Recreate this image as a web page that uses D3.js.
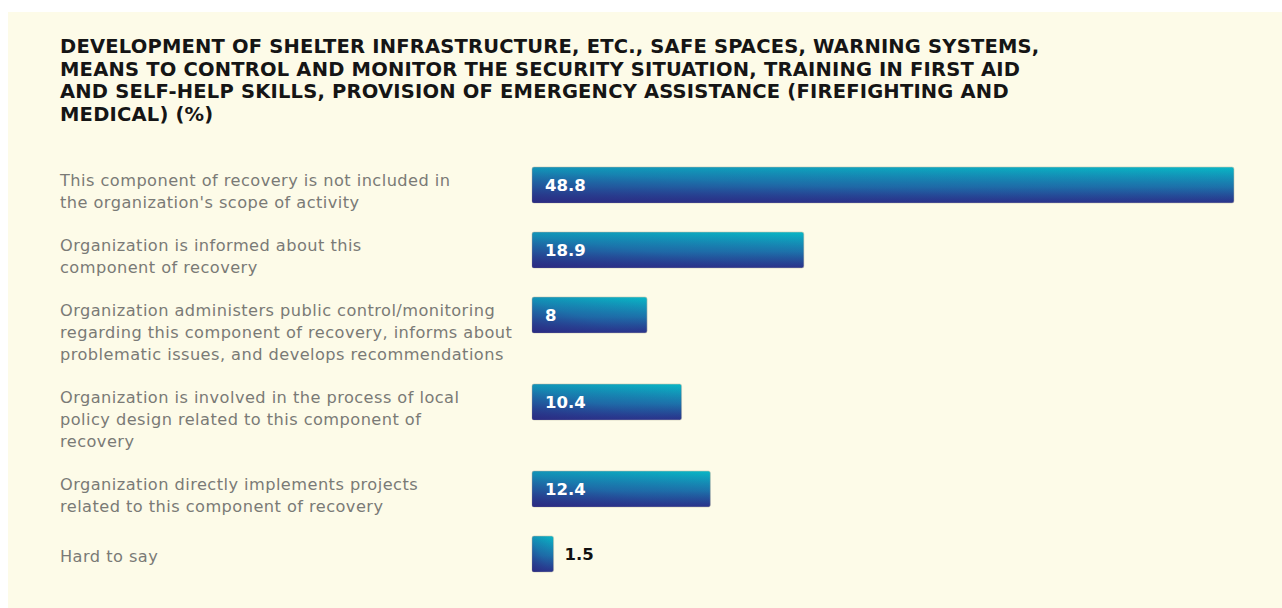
<!DOCTYPE html>
<html>
<head>
<meta charset="utf-8">
<script src="https://cdn.jsdelivr.net/npm/d3@7"></script>
<style>
  html, body { margin: 0; padding: 0; background: #ffffff; }
  svg { display: block; }
</style>
</head>
<body>
<svg id="chart" width="1282" height="608"></svg>
<script>
// Chart title, one entry per printed line
const titleLines = [
  "DEVELOPMENT OF SHELTER INFRASTRUCTURE, ETC., SAFE SPACES, WARNING SYSTEMS,",
  "MEANS TO CONTROL AND MONITOR THE SECURITY SITUATION, TRAINING IN FIRST AID",
  "AND SELF-HELP SKILLS, PROVISION OF EMERGENCY ASSISTANCE (FIREFIGHTING AND",
  "MEDICAL) (%)"
];

// Response categories, already broken into their printed lines
const categories = [
  ["This component of recovery is not included in", "the organization's scope of activity"],
  ["Organization is informed about this", "component of recovery"],
  ["Organization administers public control/monitoring", "regarding this component of recovery, informs about", "problematic issues, and develops recommendations"],
  ["Organization is involved in the process of local", "policy design related to this component of", "recovery"],
  ["Organization directly implements projects", "related to this component of recovery"],
  ["Hard to say"]
];

// Share of organizations, %
const values = [48.8, 18.9, 8, 10.4, 12.4, 1.5];

const svg = d3.select("#chart");
const W = 1282, H = 608;

// cream panel
svg.append("rect")
  .attr("x", 8).attr("y", 12)
  .attr("width", W - 8).attr("height", H - 12)
  .attr("fill", "#fdfbe8");

// gradients for bars
const defs = svg.append("defs");
const gV = defs.append("linearGradient").attr("id", "barV")
  .attr("x1", 0).attr("y1", 0).attr("x2", 0).attr("y2", 1);
gV.append("stop").attr("offset", "0%").attr("stop-color", "#08b8c6");
gV.append("stop").attr("offset", "55%").attr("stop-color", "#1a7caf");
gV.append("stop").attr("offset", "100%").attr("stop-color", "#2a3088");

const gH = defs.append("linearGradient").attr("id", "barH")
  .attr("x1", 0).attr("y1", 1).attr("x2", 1).attr("y2", 0);
gH.append("stop").attr("offset", "0%").attr("stop-color", "#2b2a80").attr("stop-opacity", 0.8);
gH.append("stop").attr("offset", "45%").attr("stop-color", "#2b3590").attr("stop-opacity", 0.28);
gH.append("stop").attr("offset", "100%").attr("stop-color", "#2b3590").attr("stop-opacity", 0);

// title
const title = svg.append("text")
  .attr("font-family", "'DejaVu Sans', sans-serif")
  .attr("font-weight", "bold")
  .attr("font-size", 19.5)
  .attr("letter-spacing", 0.2)
  .attr("fill", "#151515");
titleLines.forEach((t, i) => {
  title.append("tspan").attr("x", 60).attr("y", 53 + i * 22.5).text(t);
});

// x scale
const x = d3.scaleLinear()
  .domain([0, d3.max(values)])
  .range([532, 1234]);

// row layout driven by the number of label lines
const lineH = 22, rowGap = 21, firstLine = 180, barH = 36;
const rows = [];
let cy = firstLine;
categories.forEach((lines, i) => {
  rows.push({ lines, value: values[i], y: cy });
  cy += lines.length * lineH + rowGap;
});

const barTop = d => d.y - 13;
// single-line labels sit centred on their bar
const labelY = d => d.lines.length === 1 ? barTop(d) + barH / 2 + 2 : d.y;

const g = svg.append("g");
const row = g.selectAll("g.row").data(rows).join("g").attr("class", "row");

// category labels
row.append("text")
  .attr("font-family", "'DejaVu Sans', sans-serif")
  .attr("font-size", 16.2)
  .attr("letter-spacing", 0.45)
  .attr("fill", "#7a7a76")
  .each(function(d) {
    const t = d3.select(this);
    d.lines.forEach((ln, j) => {
      t.append("tspan").attr("x", 60).attr("y", labelY(d) + 5.5 + j * lineH).text(ln);
    });
  });

// bars
row.append("rect")
  .attr("x", x(0))
  .attr("y", barTop)
  .attr("width", d => x(d.value) - x(0))
  .attr("height", barH)
  .attr("rx", 2)
  .attr("fill", "url(#barV)")
  .attr("stroke", "#c9c6b0")
  .attr("stroke-width", 0.6);
row.append("rect")
  .attr("x", x(0))
  .attr("y", barTop)
  .attr("width", d => x(d.value) - x(0))
  .attr("height", barH)
  .attr("rx", 2)
  .attr("fill", "url(#barH)");

// value labels: inside for wide bars, outside for narrow ones
const inside = d => (x(d.value) - x(0)) > 50;
row.append("text")
  .attr("font-family", "'DejaVu Sans', sans-serif")
  .attr("font-weight", "bold")
  .attr("font-size", 16.5)
  .attr("x", d => inside(d) ? x(0) + 13 : x(d.value) + 11)
  .attr("y", d => barTop(d) + barH / 2 + 6)
  .attr("fill", d => inside(d) ? "#ffffff" : "#111111")
  .text(d => d.value);
</script>
</body>
</html>
